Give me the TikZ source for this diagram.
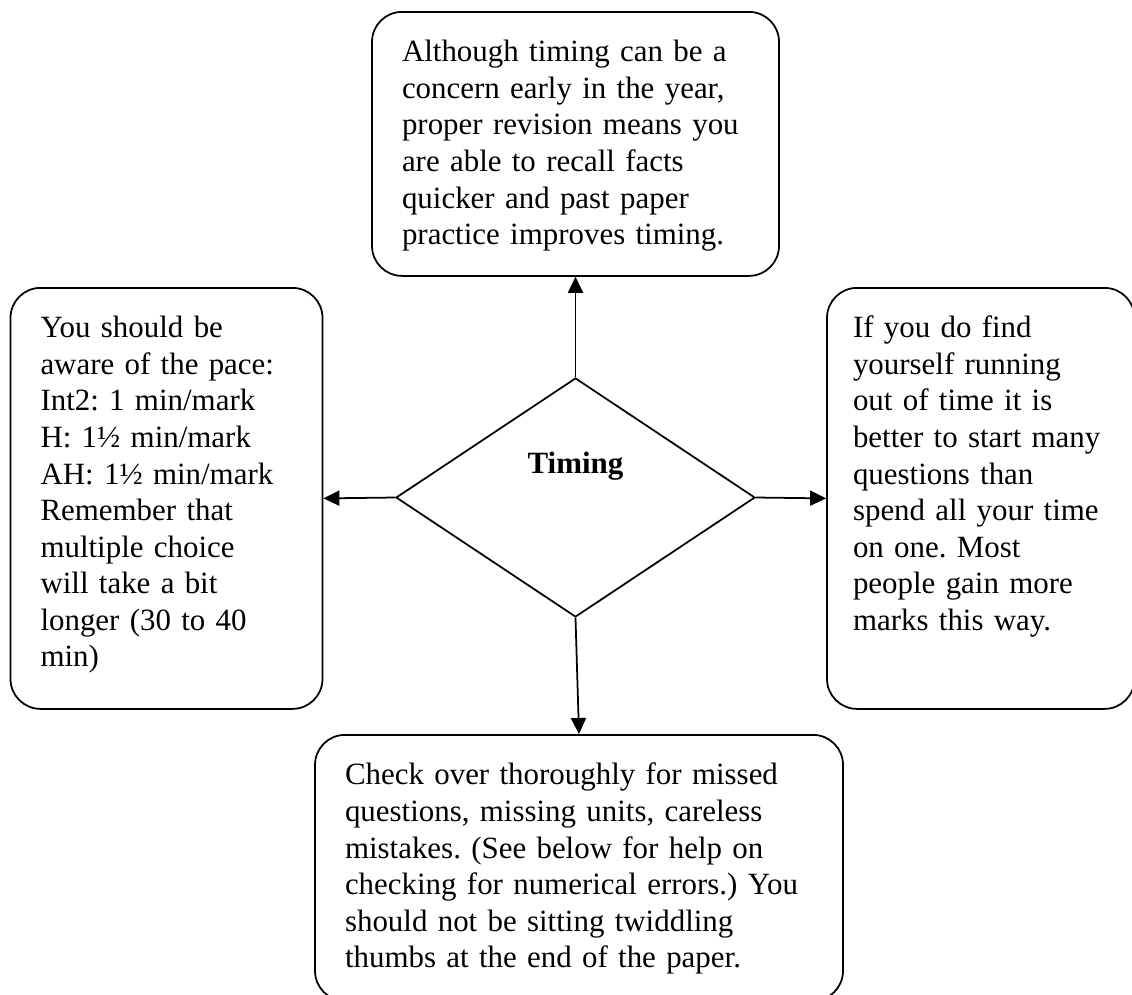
\documentclass[tikz,border=0pt]{standalone}
\usepackage{fontspec}
\setmainfont{Liberation Serif}
\usetikzlibrary{shapes.geometric,arrows.meta}
\frenchspacing

\tikzset{
	note/.style={draw, rounded corners=0.6cm, align=left, anchor=north,
		inner xsep=0.6cm, inner ysep=0pt, text height=1cm},
	link/.style={-{Triangle[length=0.32cm,width=0.3cm]}},
}

\begin{document}
\begin{tikzpicture}[line width=1pt, font=\fontsize{17.6}{20.8}\selectfont]
	\useasboundingbox (0,0) rectangle (22.64,-19.88);
	% centre
	\node (timing) [diamond, draw, inner sep=0pt, minimum width=7.18cm, minimum height=4.78cm] at (11.51,-9.95) {};
	\node (title) [anchor=base, font=\fontsize{17.6}{20.8}\selectfont\bfseries] at ([yshift=0.48cm]timing.center) {Timing};
	% the four notes
	\node (revise) [note, text width=6.94cm, text depth=4.28cm] at (11.51,-0.22)
		{Although timing can be a\\concern early in the year,\\proper revision means you\\are able to recall facts\\quicker and past paper\\practice improves timing.};
	\node (pace) [note, text width=5.04cm, text depth=7.42cm] at (3.33,-5.74)
		{You should be\\aware of the pace:\\Int2: 1 min/mark\\H: 1½ min/mark\\AH: 1½ min/mark\\Remember that\\multiple choice\\will take a bit\\longer (30 to 40\\min)};
	\node (running) [note, inner xsep=0.52cm, text width=5.11cm, text depth=7.42cm] at (19.615,-5.74)
		{If you do find\\yourself running\\out of time it is\\better to start many\\questions than\\spend all your time\\on one. Most\\people gain more\\marks this way.};
	\node (check) [note, text width=9.36cm, text depth=4.32cm] at (11.58,-14.68)
		{Check over thoroughly for missed\\questions, missing units, careless\\mistakes. (See below for help on\\checking for numerical errors.) You\\should not be sitting twiddling\\thumbs at the end of the paper.};
	% arrows
	\draw[link] (timing.north) -- (revise.south);
	\draw[link] (timing.west) -- (pace.east);
	\draw[link] (timing.east) -- (running.west);
	\draw[link] (timing.south) -- (check.north);
\end{tikzpicture}
\end{document}
